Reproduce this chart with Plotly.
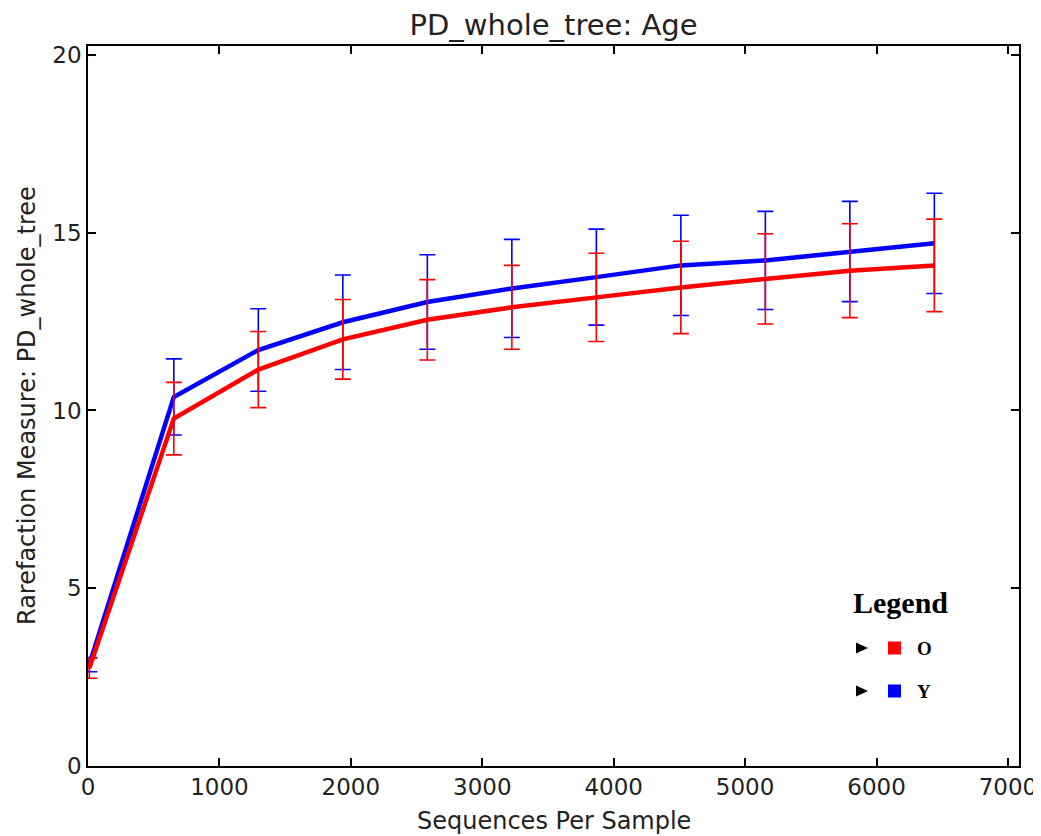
import plotly.graph_objects as go

# ---- data ----
seqs_per_sample = [10, 653, 1296, 1939, 2582, 3225, 3868, 4511, 5154, 5797, 6440]

o_mean = [2.75, 9.77, 11.15, 12.00, 12.55, 12.90, 13.18, 13.46, 13.70, 13.93, 14.08]
o_err = [0.28, 1.02, 1.07, 1.12, 1.13, 1.18, 1.24, 1.30, 1.27, 1.32, 1.30]

y_mean = [2.85, 10.38, 11.70, 12.48, 13.05, 13.43, 13.75, 14.08, 14.22, 14.47, 14.70]
y_err = [0.20, 1.07, 1.16, 1.33, 1.33, 1.38, 1.35, 1.41, 1.38, 1.41, 1.41]

legend_labels = ["O", "Y"]
legend_colors = ["#ff0000", "#0000ff"]

x_ticks = [0, 1000, 2000, 3000, 4000, 5000, 6000, 7000]
y_ticks = [0, 5, 10, 15, 20]

# ---- layout geometry (page pixels; the page body adds an 8px offset) ----
OFF = 8
W, H = 1041, 836 - OFF
PLOT_L, PLOT_R, PLOT_T, PLOT_B = 88, 1019, 46, 766  # page pixels
L, T = PLOT_L - OFF, PLOT_T - OFF
R, B = W - (PLOT_R - OFF), H - (PLOT_B - OFF)
PW, PH = W - L - R, H - T - B


def px(x):
    return (x - PLOT_L) / PW


def py(y):
    return (PLOT_B - y) / PH


fig = go.Figure()

for name, mean, err, col in [("Y", y_mean, y_err, "#0000ff"), ("O", o_mean, o_err, "#ff0000")]:
    fig.add_trace(go.Scatter(
        x=seqs_per_sample, y=mean, name=name, mode="lines",
        line=dict(color=col, width=4.5),
        error_y=dict(type="data", array=err, visible=True, color=col, thickness=1.6, width=8),
        showlegend=False,
    ))

axis_common = dict(
    showline=True, linecolor="#000000", linewidth=1.5, mirror="ticks",
    ticks="inside", ticklen=8, tickwidth=1.5, tickcolor="#000000",
    showgrid=False, zeroline=False, automargin=False,
    tickfont=dict(family="DejaVu Sans", size=23, color="#222222"),
)

fig.update_layout(
    width=W, height=H,
    margin=dict(l=L, r=R, t=T, b=B, autoexpand=False),
    paper_bgcolor="white", plot_bgcolor="white",
    title=dict(text="PD_whole_tree: Age", x=(L + PW / 2) / W, xanchor="center",
               y=1 - (25 - OFF) / H, yanchor="middle",
               font=dict(family="DejaVu Sans", size=29, color="#222222")),
    xaxis=dict(range=[0, 7084], tickvals=x_ticks, **axis_common),
    yaxis=dict(range=[0, 20.25], tickvals=y_ticks, **axis_common),
)

title_font = dict(family="DejaVu Sans", size=24, color="#222222")
fig.add_annotation(x=0.5, y=py(821), xref="paper", yref="paper", text="Sequences Per Sample",
                   showarrow=False, xanchor="center", yanchor="middle", font=title_font)
fig.add_annotation(x=px(27), y=py(406), xref="paper", yref="paper",
                   text="Rarefaction Measure: PD_whole_tree", textangle=-90,
                   showarrow=False, xanchor="center", yanchor="middle", font=title_font)

# ---- custom legend ----
fig.add_annotation(x=px(900), y=py(602), xref="paper", yref="paper",
                   text="<b>Legend</b>", showarrow=False, xanchor="center", yanchor="middle",
                   font=dict(family="Liberation Serif", size=30, color="#000000"))

for i, (lab, col) in enumerate(zip(legend_labels, legend_colors)):
    cy = 648 + 43 * i
    fig.add_shape(type="path", xref="paper", yref="paper",
                  path=f"M {px(856)} {py(cy - 5.5)} L {px(868)} {py(cy)} L {px(856)} {py(cy + 5.5)} Z",
                  fillcolor="#000000", line=dict(width=0))
    fig.add_shape(type="rect", xref="paper", yref="paper",
                  x0=px(888), x1=px(901), y0=py(cy - 6.5), y1=py(cy + 6.5),
                  fillcolor=col, line=dict(width=0))
    fig.add_annotation(x=px(915), y=py(cy), xref="paper", yref="paper",
                       text=f"<b>{lab}</b>", showarrow=False, xanchor="left", yanchor="middle",
                       font=dict(family="Liberation Serif", size=19, color="#000000"))

fig.write_html("out.html")
